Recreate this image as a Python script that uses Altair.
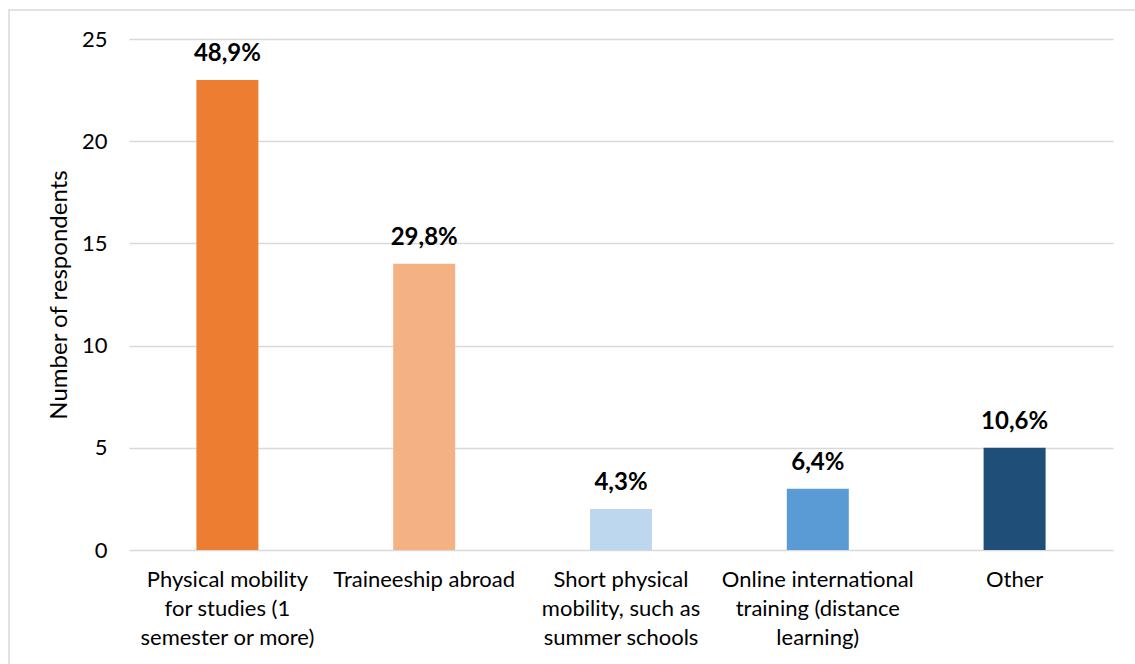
import altair as alt
import pandas as pd

categories = [
    "Physical mobility|for studies (1|semester or more)",
    "Traineeship abroad",
    "Short physical|mobility, such as|summer schools",
    "Online international|training (distance|learning)",
    "Other",
]
counts = [23, 14, 2, 3, 5]
colors = ["#ED7D31", "#F4B183", "#BDD7EE", "#5B9BD5", "#1F4E79"]

total = sum(counts)
shares = [f"{c / total * 100:.1f}%".replace(".", ",") for c in counts]

df = pd.DataFrame({"category": categories, "count": counts, "share": shares, "color": colors})

FONT = "Lato"
W, H = 984, 511

x_scale = alt.Scale(paddingInner=0.685, paddingOuter=0.3425)
y_scale = alt.Scale(domain=[0, 25], nice=False, zero=True)

x = alt.X(
    "category:N",
    sort=categories,
    scale=x_scale,
    axis=alt.Axis(
        title=None,
        labelExpr="split(datum.label, '|')",
        labelAngle=0,
        labelFont=FONT,
        labelFontSize=22,
        labelColor="#000000",
        labelPadding=19,
        labelLineHeight=29,
        labelLimit=300,
        domain=False,
        ticks=False,
    ),
)

y = alt.Y(
    "count:Q",
    scale=y_scale,
    axis=alt.Axis(
        title="Number of respondents",
        titleFont=FONT,
        titleFontSize=24,
        titleFontWeight="normal",
        titleColor="#000000",
        titlePadding=10,
        values=[0, 5, 10, 15, 20, 25],
        labelFont=FONT,
        labelFontSize=22,
        labelColor="#000000",
        labelPadding=22,
        domain=False,
        ticks=False,
        grid=True,
        gridColor="#D9D9D9",
        gridWidth=1.3,
    ),
)

bars = alt.Chart(df).mark_bar().encode(
    x=x,
    y=y,
    color=alt.Color("color:N", scale=None, legend=None),
)

labels = alt.Chart(df).mark_text(
    font=FONT, fontSize=24, fontWeight="bold", color="#000000", baseline="bottom", dy=-14
).encode(
    x=alt.X("category:N", sort=categories, scale=x_scale),
    y=alt.Y("count:Q", scale=y_scale),
    text="share:N",
)

frame = alt.Chart(df).mark_rect(
    fill=None, stroke="#D9D9D9", strokeWidth=1.5, clip=False
).encode(
    x=alt.value(-120), x2=alt.value(1050), y=alt.value(-29), y2=alt.value(700)
).transform_filter("datum.count == 23")

chart = (
    alt.layer(frame, bars, labels)
    .properties(
        width=W,
        height=H,
        autosize=alt.AutoSizeParams(type="none"),
        padding={"left": 129, "top": 39, "right": 22, "bottom": 114},
        background="#FFFFFF",
    )
    .configure_view(stroke=None)
)

chart.save("out.html", embed_options={"renderer": "svg", "actions": False})
